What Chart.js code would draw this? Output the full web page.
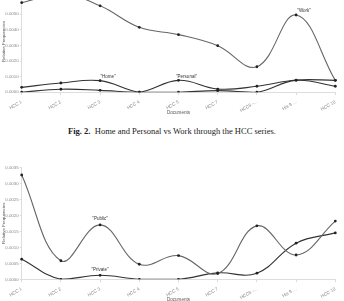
<!DOCTYPE html>
<html>
<head>
<meta charset="utf-8">
<script src="https://cdn.jsdelivr.net/npm/chart.js@4.4.0/dist/chart.umd.min.js"></script>
<style>
  html, body { margin: 0; padding: 0; background: #fff; }
  body { width: 344px; height: 301px; overflow: hidden; position: relative; }
  #topChart { position: absolute; left: 0; top: -20px; }
  #bottomChart { position: absolute; left: 0; top: 150px; }
  .caption {
    position: absolute; left: 0; top: 126px; width: 344px;
    text-align: center; white-space: nowrap;
    font: 8.5px "Liberation Serif", "Times New Roman", serif; color: #222;
  }
</style>
</head>
<body>
<canvas id="topChart" width="344" height="140"></canvas>
<div class="caption"><b>Fig. 2.</b>&nbsp; Home and Personal vs Work through the HCC series.</div>
<canvas id="bottomChart" width="344" height="160"></canvas>
<script>
// categories on the x axis
const documents = ['HCC 1', 'HCC 2', 'HCC 3', 'HCC 4', 'HCC 5', 'HCC 7', 'HCC8 -...', 'His 9 ...', 'HCC 10'];

// first chart: relative frequencies
const workFreq     = [0.00574, 0.0063, 0.00554, 0.00416, 0.00369, 0.00298, 0.00163, 0.00495, 0.00076];
const homeFreq     = [0.00031, 0.00059, 0.00074, 0, 0, 0.0001, 0, 0.00076, 0.00038];
const personalFreq = [0, 0.00019, 0.00012, 0, 0.00076, 0.0002, 0.00038, 0.00078, 0.00076];

// second chart
const publicFreq  = [0.00326, 0.00058, 0.0017, 0.00047, 0.00074, 0.00018, 0.00167, 0.00076, 0.00182];
const privateFreq = [0.00063, 0, 0.000125, 0, 0, 0.0002, 0.00019, 0.00113, 0.00145];

const FONT = '"Liberation Sans", Arial, sans-serif';

// draws the "Home" / "Work" style text next to a point
const pointLabels = {
  id: 'pointLabels',
  afterDatasetsDraw(chart, args, opts) {
    const ctx = chart.ctx;
    ctx.save();
    ctx.font = '4.5px ' + FONT;
    ctx.fillStyle = '#333';
    ctx.textAlign = 'center';
    ctx.textBaseline = 'middle';
    (opts.items || []).forEach(item => {
      const pt = chart.getDatasetMeta(item.dataset).data[item.index];
      ctx.fillText(item.text, pt.x + opts.dx, pt.y + opts.dy);
    });
    ctx.restore();
  }
};

function line(data, color) {
  return {
    data: data,
    borderColor: color,
    borderWidth: 1.1,
    tension: 0.4,
    pointRadius: 1.4,
    pointBackgroundColor: '#222',
    pointBorderColor: '#222',
    pointBorderWidth: 0,
    fill: false
  };
}

function makeChart(id, datasets, yMax, padding, labels, dx, dy) {
  return new Chart(document.getElementById(id), {
    type: 'line',
    data: { labels: documents, datasets: datasets },
    plugins: [pointLabels],
    options: {
      responsive: false,
      animation: false,
      layout: { padding: padding },
      plugins: {
        legend: { display: false },
        tooltip: { enabled: false },
        pointLabels: { items: labels, dx: dx, dy: dy }
      },
      scales: {
        x: {
          grid: { drawOnChartArea: false, color: '#ddd', tickLength: 3 },
          border: { color: '#ddd' },
          ticks: { color: '#888', font: { size: 4.6, family: FONT }, minRotation: 30, maxRotation: 30, padding: 4, autoSkip: false },
          title: { display: true, text: 'Documents', color: '#555', font: { size: 4.6, family: FONT }, padding: { top: 0, bottom: 0.5 } },
          afterFit: axis => { axis.height = 24; }
        },
        y: {
          min: 0,
          max: yMax,
          grid: { drawOnChartArea: false, color: '#ddd', tickLength: 2 },
          border: { color: '#ddd' },
          ticks: { stepSize: 0.0005, color: '#888', font: { size: 4.4, family: FONT }, padding: 1,
                   callback: v => v.toFixed(4) },
          title: { display: true, text: 'Relative Frequencies', color: '#555', font: { size: 4.4, family: FONT }, padding: { top: 1.3, bottom: 0 } },
          afterFit: axis => { axis.width = 21.7; }
        }
      }
    }
  });
}

makeChart('topChart',
  [line(workFreq, '#666'), line(homeFreq, '#333'), line(personalFreq, '#333')],
  0.0065,
  { top: 10.8, bottom: 3.8, left: 0, right: 8.7 },
  [{ dataset: 0, index: 7, text: '"Work"' },
   { dataset: 1, index: 2, text: '"Home"' },
   { dataset: 2, index: 4, text: '"Personal"' }],
  8, -4);

makeChart('bottomChart',
  [line(publicFreq, '#666'), line(privateFreq, '#333')],
  0.0035,
  { top: 17.3, bottom: 6.7, left: 0, right: 8.7 },
  [{ dataset: 0, index: 2, text: '"Public"' },
   { dataset: 1, index: 2, text: '"Private"' }],
  0, -6);
</script>
</body>
</html>
